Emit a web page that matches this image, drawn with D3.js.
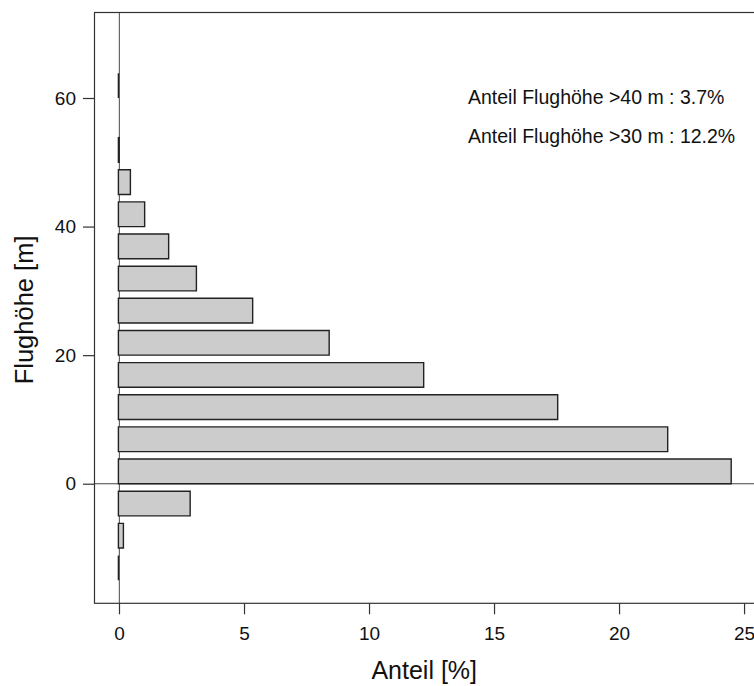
<!DOCTYPE html>
<html>
<head>
<meta charset="utf-8">
<script src="https://cdn.jsdelivr.net/npm/d3@7"></script>
<style>
  html, body { margin: 0; padding: 0; background: #fff; }
  svg { display: block; font-family: "Liberation Sans", Arial, sans-serif; }
</style>
</head>
<body>
<svg id="chart" width="754" height="686"></svg>
<script>
// Flight-height distribution: share of observations per 5 m height class
const binStart = [-15, -10, -5, 0, 5, 10, 15, 20, 25, 30, 35, 40, 45, 50, 60];
const share    = [0, 0.2, 2.87, 24.51, 21.97, 17.57, 12.21, 8.43, 5.37, 3.12, 2.01, 1.05, 0.48, 0.03, 0];
const xTicks = [0, 5, 10, 15, 20, 25];
const yTicks = [0, 20, 40, 60];
const notes = ["Anteil Flughöhe >40 m : 3.7%", "Anteil Flughöhe >30 m : 12.2%"];
const xTitle = "Anteil [%]";
const yTitle = "Flughöhe [m]";

const binWidth = 5;      // metres per class
const barFrac = 0.768;   // bar thickness relative to class width

const svg = d3.select("#chart");
const plot = { left: 94.5, right: 756.3, top: 12.5, bottom: 603.3 };

const x = d3.scaleLinear().domain([-0.98, 25.49]).range([plot.left, plot.right]);
const y = d3.scaleLinear().domain([-18.6, 73.3]).range([plot.bottom, plot.top]);

const bars = binStart.map((b, i) => ({ lo: b, v: share[i] }));

// reference lines at x = 0 and y = 0
svg.append("line")
  .attr("x1", x(0) + 0.4).attr("x2", x(0) + 0.4)
  .attr("y1", plot.top).attr("y2", plot.bottom)
  .attr("stroke", "#666").attr("stroke-width", 1.2);
svg.append("line")
  .attr("x1", plot.left).attr("x2", plot.right)
  .attr("y1", y(0)).attr("y2", y(0))
  .attr("stroke", "#444").attr("stroke-width", 1.2);

// bars drawn as closed paths so that zero-length classes still show as a stroke
svg.append("g")
  .selectAll("path")
  .data(bars)
  .join("path")
  .attr("d", d => {
    const x0 = x(0) - 0.6, x1 = x(d.v) - 0.6;
    const y0 = y(d.lo), y1 = y(d.lo + binWidth * barFrac);
    return `M${x0},${y0}H${x1}V${y1}H${x0}Z`;
  })
  .attr("fill", "#cccccc")
  .attr("stroke", "#222")
  .attr("stroke-width", 1.4);

// plot frame
svg.append("rect")
  .attr("x", plot.left).attr("y", plot.top)
  .attr("width", plot.right - plot.left).attr("height", plot.bottom - plot.top)
  .attr("fill", "none").attr("stroke", "#333").attr("stroke-width", 1.2);

// axes
const xAxis = d3.axisBottom(x).tickValues(xTicks).tickSize(11).tickPadding(12).tickSizeOuter(0);
const gx = svg.append("g").attr("transform", `translate(0,${plot.bottom})`).call(xAxis);
gx.select(".domain").remove();
gx.selectAll("line").attr("stroke", "#333").attr("stroke-width", 1.2);
gx.selectAll("text").attr("font-size", 19).attr("fill", "#111")
  .attr("font-family", "Liberation Sans, Arial, sans-serif");

const yAxis = d3.axisLeft(y).tickValues(yTicks).tickSize(11.5).tickPadding(7).tickSizeOuter(0);
const gy = svg.append("g").attr("transform", `translate(${plot.left},0)`).call(yAxis);
gy.select(".domain").remove();
gy.selectAll("line").attr("stroke", "#333").attr("stroke-width", 1.2);
gy.selectAll("text").attr("font-size", 19).attr("fill", "#111")
  .attr("font-family", "Liberation Sans, Arial, sans-serif");

// axis titles
svg.append("text")
  .attr("x", (plot.left + 754) / 2).attr("y", 679)
  .attr("text-anchor", "middle").attr("font-size", 25).attr("fill", "#111")
  .text(xTitle);
svg.append("text")
  .attr("transform", `translate(33,${(plot.top + plot.bottom) / 2 + 2}) rotate(-90)`)
  .attr("text-anchor", "middle").attr("font-size", 25.5).attr("fill", "#111")
  .text(yTitle);

// share annotations
svg.append("g").selectAll("text")
  .data(notes)
  .join("text")
  .attr("x", 468)
  .attr("y", (d, i) => 104 + i * 39)
  .attr("font-size", 19.5).attr("fill", "#111")
  .text(d => d);
</script>
</body>
</html>
